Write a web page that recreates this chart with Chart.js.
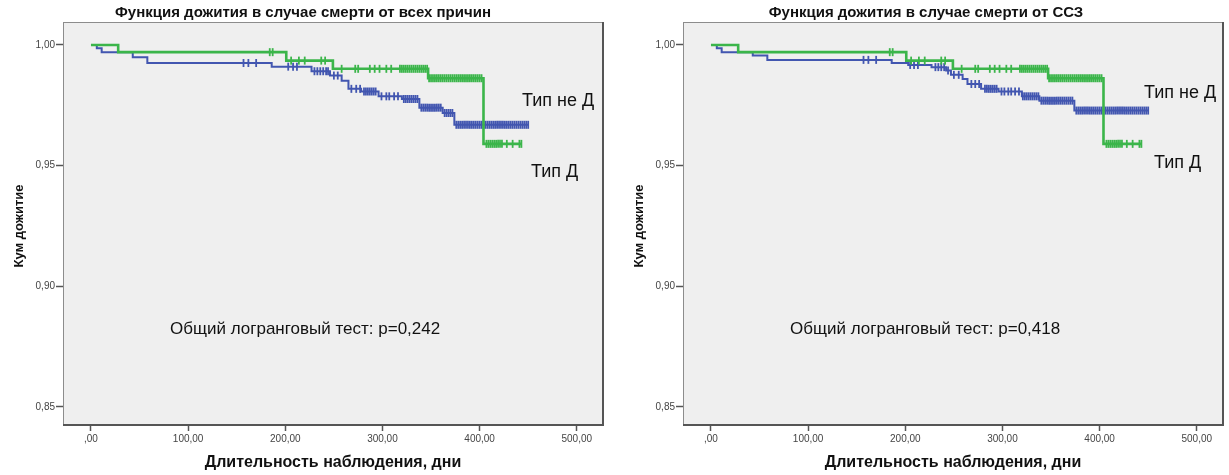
<!DOCTYPE html>
<html>
<head>
<meta charset="utf-8">
<script src="https://cdn.jsdelivr.net/npm/chart.js@4/dist/chart.umd.min.js"></script>
<style>
  body { margin: 0; background: #fff; }
  canvas { position: absolute; top: 0; }
  #allCauses { left: 0; }
  #cvd { left: 620px; }
</style>
</head>
<body>
<canvas id="allCauses" width="615" height="475"></canvas>
<canvas id="cvd" width="609" height="475"></canvas>
<script>
'use strict'

var FONT = '"Liberation Sans", Arial, sans-serif';

// axes
var dayTicks = [0, 100, 200, 300, 400, 500];
var survTicks = [0.85, 0.90, 0.95, 1.00];
var dayMin = -28.8, dayMax = 527;
var survMin = 0.8425, survMax = 1.0095;

// Тип Д (same steps in both panels)
var typeDDays = [0, 28, 201, 249, 347, 404, 443];
var typeDSurv = [1, 0.9970, 0.9935, 0.9901, 0.9862, 0.9590, 0.9590];
var typeDCensored = [184, 187, 206, 214, 220, 237, 241, 258, 272, 275, 287, 292,
    297, 304, 309, 318, 320, 322, 324, 326, 328, 330, 332, 334, 336, 338, 340,
    342, 344, 346, 348, 350, 352, 354, 356, 358, 360, 362, 364, 366, 368, 370,
    372, 374, 376, 378, 380, 382, 384, 386, 388, 390, 392, 394, 396, 398, 400,
    402, 407, 409, 411, 413, 415, 417, 419, 421, 423, 428, 434, 441, 443];

// Тип не Д, death from all causes
var notDAllDays = [0, 6, 11, 43, 58, 186, 227, 246, 258, 265, 278, 296, 320, 338, 362, 374, 450];
var notDAllSurv = [1, 0.9986, 0.9970, 0.9949, 0.9925, 0.9910, 0.9891, 0.9873, 0.9852,
    0.9818, 0.9807, 0.9787, 0.9776, 0.9740, 0.9718, 0.9669, 0.9669];
var notDAllCensored = [157, 162, 170, 203, 208, 212, 230, 233, 236, 239, 242, 244,
    250, 254, 268, 273, 277, 281, 283, 285, 287, 289, 291, 293, 299, 304, 307, 312,
    316, 322, 324, 326, 328, 330, 332, 334, 336, 340, 342, 344, 346, 348, 350, 352,
    354, 356, 358, 360, 364, 366, 368, 370, 372, 376, 378, 380, 382, 384, 386, 388,
    390, 392, 394, 396, 398, 400, 402, 404, 406, 408, 410, 412, 414, 416, 418, 420,
    422, 424, 426, 428, 430, 432, 434, 436, 438, 440, 442, 444, 446, 448, 450];

// Тип не Д, cardiovascular death
var notDCvdDays = [0, 6, 11, 43, 58, 186, 203, 227, 242, 247, 259, 264, 278, 296, 320, 338, 374, 450];
var notDCvdSurv = [1, 0.9986, 0.9970, 0.9956, 0.9938, 0.9925, 0.9917, 0.9908, 0.9894,
    0.9876, 0.9859, 0.9838, 0.9818, 0.9807, 0.9787, 0.9769, 0.9728, 0.9728];
var notDCvdCensored = [157, 162, 170, 205, 209, 213, 231, 234, 237, 240, 244, 250,
    255, 268, 272, 276, 282, 284, 286, 288, 290, 292, 294, 299, 302, 306, 309, 313,
    317, 321, 323, 325, 327, 329, 331, 333, 335, 337, 340, 342, 344, 346, 348, 350,
    352, 354, 356, 358, 360, 362, 364, 366, 368, 370, 372, 376, 378, 380, 382, 384,
    386, 388, 390, 392, 394, 396, 398, 400, 402, 404, 406, 408, 410, 412, 414, 416,
    418, 420, 422, 424, 426, 428, 430, 432, 434, 436, 438, 440, 442, 444, 446, 448, 450];

var GREEN = '#3bb54a';
var BLUE = '#4256b0';

function survAt(days, surv, t) {
    var s = surv[0];
    for (var i = 0; i < days.length; i++) {
        if (days[i] <= t) s = surv[i];
    }
    return s;
}

// Kaplan-Meier step: hold the previous level, drop at the event day
function stepSet(days, surv, color, width) {
    return {
        data: days.map(function (d, i) { return {x: d, y: surv[i]}; }),
        stepped: 'before',
        borderColor: color,
        borderWidth: width,
        pointRadius: 0,
        fill: false
    };
}

// censored cases drawn as short vertical ticks on the curve
function censorSet(days, surv, censored, color) {
    return {
        data: censored.map(function (t) { return {x: t, y: survAt(days, surv, t)}; }),
        showLine: false,
        pointStyle: 'line',
        rotation: 90,
        pointRadius: 4,
        pointBorderWidth: 1.8,
        pointBorderColor: color,
        borderColor: color
    };
}

function commaFixed(v, dropZero) {
    var s = v.toFixed(2).replace('.', ',');
    if (dropZero && s.indexOf('0,') === 0) s = s.slice(1);
    return s;
}

// plot background, frame and all the captions
var panelText = {
    id: 'panelText',
    beforeDraw: function (chart) {
        var a = chart.chartArea, c = chart.ctx;
        c.save();
        c.fillStyle = '#efefef';
        c.fillRect(a.left, a.top, a.right - a.left, a.bottom - a.top);
        c.restore();
    },
    afterDraw: function (chart, args, opts) {
        var a = chart.chartArea, c = chart.ctx;
        c.save();
        c.strokeStyle = '#8c8c8c';
        c.lineWidth = 1;
        c.strokeRect(a.left + 0.5, a.top + 0.5, a.right - a.left, a.bottom - a.top);
        c.strokeStyle = '#555';
        c.lineWidth = 2;
        c.beginPath();
        c.moveTo(a.left, a.bottom);
        c.lineTo(a.right, a.bottom);
        c.lineTo(a.right, a.top);
        c.stroke();

        c.fillStyle = '#111';
        c.textBaseline = 'middle';
        c.textAlign = 'center';
        c.font = 'bold 15px ' + FONT;
        c.fillText(opts.title, opts.titleX, 13);
        c.font = 'bold 16px ' + FONT;
        c.fillText('Длительность наблюдения, дни', (a.left + a.right) / 2, 463);

        c.save();
        c.translate(19, 226);
        c.rotate(-Math.PI / 2);
        c.font = 'bold 13px ' + FONT;
        c.fillText('Кум дожитие', 0, 0);
        c.restore();

        c.textAlign = 'left';
        c.font = '17px ' + FONT;
        c.fillText(opts.test, 170, 329);
        c.font = '18px ' + FONT;
        opts.labels.forEach(function (l) {
            c.fillText(l.text, l.x, l.y);
        });
        c.restore();
    }
};

function makePanel(canvasId, panel) {
    var canvas = document.getElementById(canvasId);
    return new Chart(canvas.getContext('2d'), {
        type: 'line',
        data: {
            datasets: [
                stepSet(typeDDays, typeDSurv, GREEN, 2.6),
                censorSet(typeDDays, typeDSurv, typeDCensored, GREEN),
                stepSet(panel.days, panel.surv, BLUE, 2),
                censorSet(panel.days, panel.surv, panel.censored, BLUE)
            ]
        },
        plugins: [panelText],
        options: {
            responsive: false,
            animation: false,
            layout: {padding: {top: 22, right: canvas.width - 603, left: 0, bottom: 0}},
            plugins: {
                legend: {display: false},
                tooltip: {enabled: false},
                panelText: panel.text
            },
            scales: {
                x: {
                    type: 'linear',
                    min: dayMin,
                    max: dayMax,
                    afterBuildTicks: function (s) { s.ticks = dayTicks.map(function (v) { return {value: v}; }); },
                    afterFit: function (s) { s.height = 50; },
                    border: {display: false},
                    grid: {drawOnChartArea: false, drawTicks: true, tickLength: 6, tickWidth: 1.5, color: '#555'},
                    ticks: {
                        color: '#444', padding: 2, maxRotation: 0, autoSkip: false,
                        font: {family: FONT, size: 10},
                        callback: function (v) { return commaFixed(v, true); }
                    }
                },
                y: {
                    type: 'linear',
                    min: survMin,
                    max: survMax,
                    afterBuildTicks: function (s) { s.ticks = survTicks.map(function (v) { return {value: v}; }); },
                    afterFit: function (s) { s.width = 63; },
                    border: {display: false},
                    grid: {drawOnChartArea: false, drawTicks: true, tickLength: 7, tickWidth: 1.5, color: '#555'},
                    ticks: {
                        color: '#444', padding: 1,
                        font: {family: FONT, size: 10},
                        callback: function (v) { return commaFixed(v, false); }
                    }
                }
            }
        }
    });
}

makePanel('allCauses', {
    days: notDAllDays,
    surv: notDAllSurv,
    censored: notDAllCensored,
    text: {
        title: 'Функция дожития в случае смерти от всех причин',
        titleX: 303,
        test: 'Общий логранговый тест: p=0,242',
        labels: [{text: 'Тип не Д', x: 522, y: 101}, {text: 'Тип Д', x: 531, y: 172}]
    }
});

makePanel('cvd', {
    days: notDCvdDays,
    surv: notDCvdSurv,
    censored: notDCvdCensored,
    text: {
        title: 'Функция дожития в случае смерти от ССЗ',
        titleX: 306,
        test: 'Общий логранговый тест: p=0,418',
        labels: [{text: 'Тип не Д', x: 524, y: 93}, {text: 'Тип Д', x: 534, y: 163}]
    }
});
</script>
</body>
</html>
